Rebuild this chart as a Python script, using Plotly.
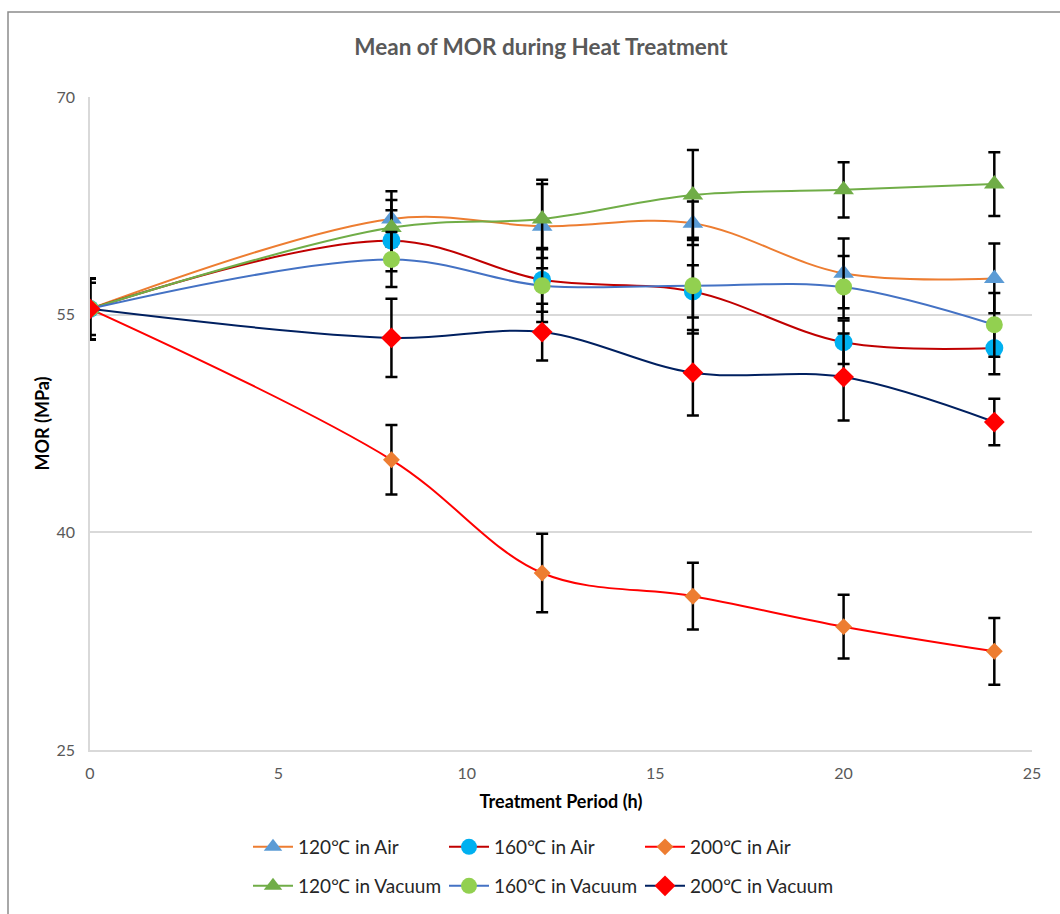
import plotly.graph_objects as go

hours = [0, 8, 12, 16, 20, 24]

air120 = [55.4, 61.6, 61.1, 61.3, 57.85, 57.5]
air120_err = [2.1, 1.9, 2.9, 1.5, 2.4, 2.4]
air160 = [55.4, 60.1, 57.4, 56.6, 53.1, 52.7]
air160_err = [2.1, 2.1, 2.2, 1.8, 1.5, 1.8]
air200 = [55.4, 45.0, 37.2, 35.6, 33.5, 31.8]
air200_err = [2.1, 2.4, 2.7, 2.3, 2.2, 2.3]
vac120 = [55.4, 61.0, 61.6, 63.25, 63.6, 64.0]
vac120_err = [2.1, 1.9, 2.7, 3.1, 1.9, 2.2]
vac160 = [55.4, 58.8, 57.0, 57.0, 56.9, 54.3]
vac160_err = [1.8, 1.9, 2.5, 3.3, 2.15, 2.2]
vac200 = [55.4, 53.4, 53.8, 51.0, 50.7, 47.6]
vac200_err = [2.1, 2.7, 1.95, 2.95, 3.0, 1.6]

names = ["120\u2103 in Air", "160\u2103 in Air", "200\u2103 in Air",
         "120\u2103 in Vacuum", "160\u2103 in Vacuum", "200\u2103 in Vacuum"]

FONT = "Lato, 'Open Sans', sans-serif"

series = [
    (names[0], air120, air120_err, "#ED7D31", "#5B9BD5", "triangle-up", 18, "legend"),
    (names[1], air160, air160_err, "#C00000", "#00B0F0", "circle", 18, "legend"),
    (names[2], air200, air200_err, "#FF0000", "#ED7D31", "diamond", 13, "legend"),
    (names[3], vac120, vac120_err, "#70AD47", "#70AD47", "triangle-up", 18, "legend2"),
    (names[4], vac160, vac160_err, "#4472C4", "#92D050", "circle", 17, "legend2"),
    (names[5], vac200, vac200_err, "#002060", "#FF0000", "diamond", 16, "legend2"),
]

fig = go.Figure()
for name, y, err, lc, mc, sym, size, leg in series:
    fig.add_trace(go.Scatter(
        x=hours, y=y, name=name, mode="lines+markers",
        line=dict(color=lc, width=2, shape="spline", smoothing=1.0),
        marker=dict(color=mc, symbol=sym, size=size, line=dict(width=0)),
        error_y=dict(type="data", array=err, visible=True, color="black",
                     thickness=2.5, width=6),
        legend=leg,
    ))

W, H = 1060, 914
ml, mr, mt, mb = 90, 28, 97, 164
pw, ph = W - ml - mr, H - mt - mb

def px_x(p):
    return (p - ml) / pw

def px_y(p):
    return (H - mb - p) / ph

fig.update_layout(
    width=W, height=H,
    margin=dict(l=ml, r=mr, t=mt, b=mb, autoexpand=False),
    paper_bgcolor="white", plot_bgcolor="white",
    font=dict(family=FONT, color="#404040"),
    title=dict(text="<b>Mean of MOR during Heat Treatment</b>",
               x=541 / W, xanchor="center", xref="container",
               y=1 - 47 / H, yanchor="middle",
               font=dict(size=22.5, color="#595959", family=FONT)),
    xaxis=dict(range=[0, 25], dtick=5, tick0=0, showgrid=False,
               showline=True, linecolor="#d9d9d9", linewidth=1.5,
               ticks="", zeroline=False, ticklabelstandoff=8,
               tickfont=dict(size=16, color="#595959"),
               title=dict(text="<b>Treatment Period (h)</b>", standoff=14,
                          font=dict(size=18, color="black"))),
    yaxis=dict(range=[25, 70], dtick=15, tick0=25, showgrid=True,
               gridcolor="#d9d9d9", gridwidth=1.5,
               showline=True, linecolor="#d9d9d9", linewidth=1.5,
               ticks="", zeroline=False, ticklabelstandoff=10,
               tickfont=dict(size=16, color="#595959"),
               title=dict(text="<b>MOR (MPa)</b>", standoff=2,
                          font=dict(size=18, color="black"))),
    legend=dict(orientation="h", x=px_x(248), xanchor="left",
                y=px_y(847), yanchor="middle",
                entrywidth=141, entrywidthmode="pixels", itemwidth=40,
                font=dict(size=19, color="#262626"), bgcolor="rgba(0,0,0,0)"),
    legend2=dict(orientation="h", x=px_x(248), xanchor="left",
                 y=px_y(886), yanchor="middle",
                 entrywidth=141, entrywidthmode="pixels", itemwidth=40,
                 font=dict(size=19, color="#262626"), bgcolor="rgba(0,0,0,0)"),
    shapes=[dict(type="rect", xref="paper", yref="paper",
                 x0=px_x(8), x1=px_x(1070), y0=px_y(925), y1=px_y(12),
                 line=dict(color="#8c8c8c", width=1.5), layer="below")],
)

fig.write_html("out.html")
